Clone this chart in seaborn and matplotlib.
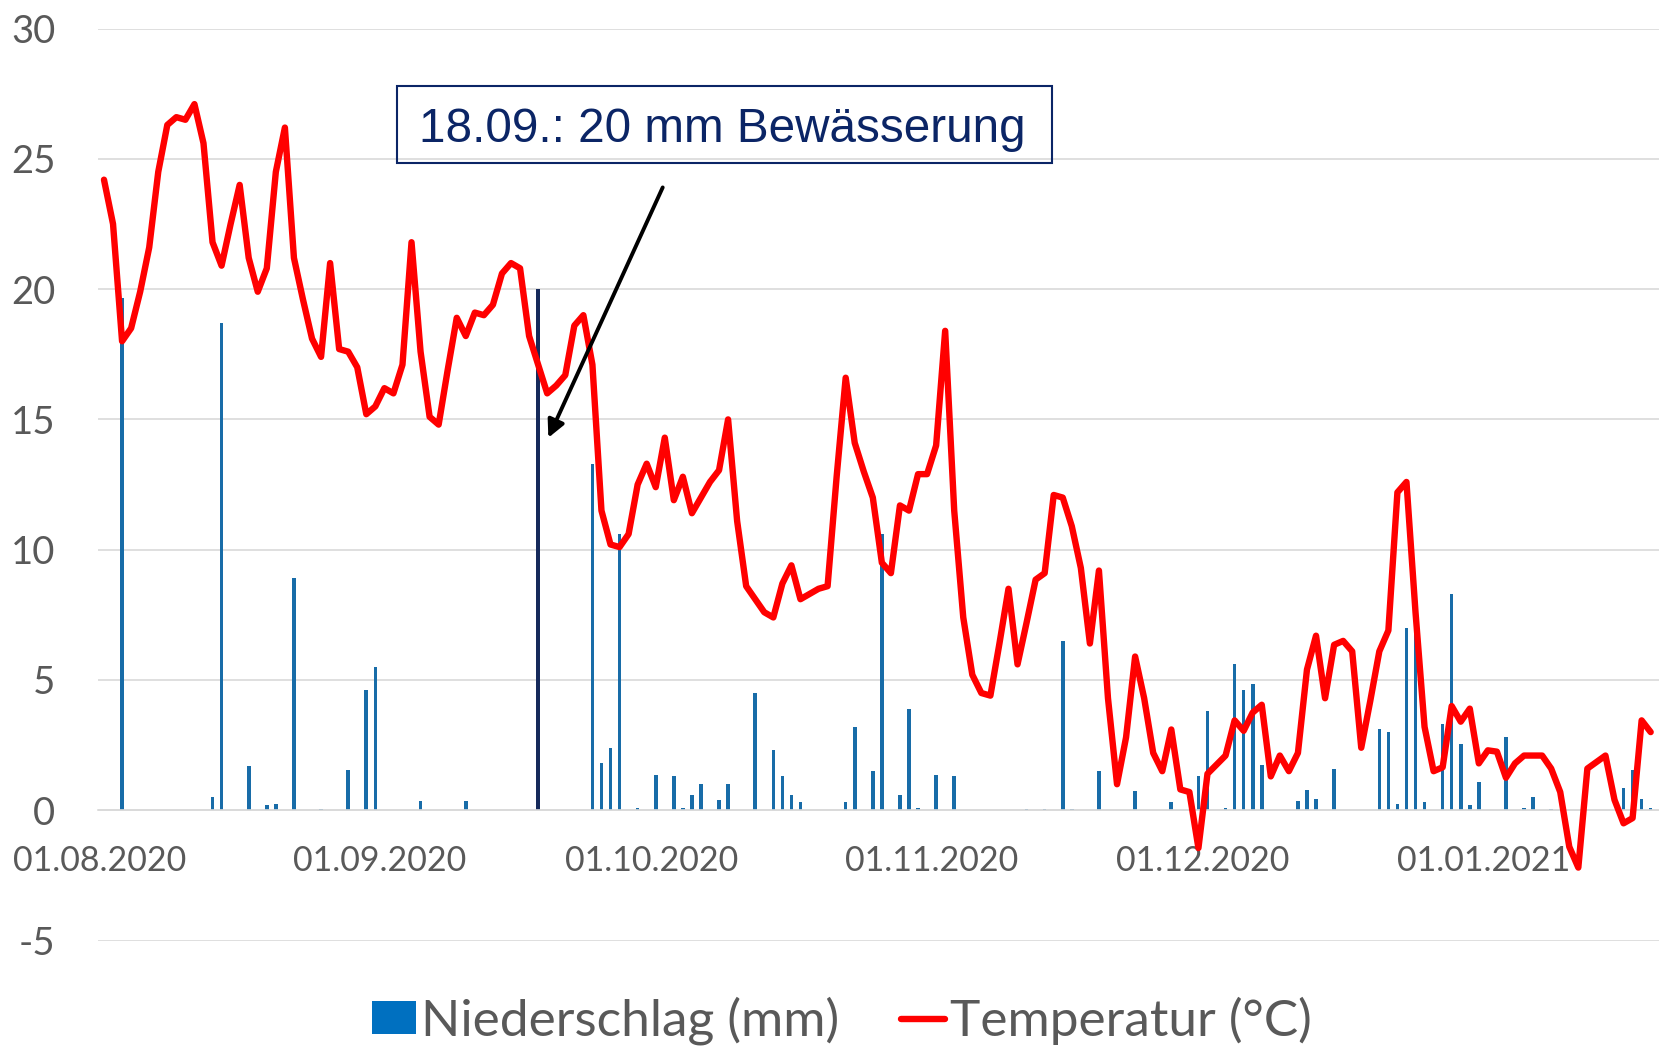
import numpy as np
import pandas as pd
import seaborn as sns
import matplotlib.pyplot as plt
from matplotlib.patches import Patch, Rectangle
from matplotlib.lines import Line2D

# daily values from 01.08.2020 (day 0) to 19.01.2021 (day 171)
temperatur = [
    24.2, 22.5, 18.0, 18.5, 19.9, 21.6, 24.5, 26.3, 26.6, 26.5,
    27.1, 25.6, 21.8, 20.9, 22.5, 24.0, 21.2, 19.9, 20.8, 24.5,
    26.2, 21.2, 19.6, 18.1, 17.4, 21.0, 17.7, 17.6, 17.0, 15.2,
    15.5, 16.2, 16.0, 17.1, 21.8, 17.6, 15.1, 14.8, 16.9, 18.9,
    18.2, 19.1, 19.0, 19.4, 20.6, 21.0, 20.8, 18.2, 17.1, 16.0,
    16.3, 16.7, 18.6, 19.0, 17.1, 11.5, 10.2, 10.1, 10.6, 12.5,
    13.3, 12.4, 14.3, 11.9, 12.8, 11.4, 12.0, 12.6, 13.05, 15.0,
    11.1, 8.6, 8.1, 7.6, 7.4, 8.7, 9.4, 8.1, 8.3, 8.5,
    8.6, 12.8, 16.6, 14.1, 13.0, 12.0, 9.5, 9.1, 11.7, 11.5,
    12.9, 12.9, 14.0, 18.4, 11.5, 7.4, 5.2, 4.5, 4.4, 6.4,
    8.5, 5.6, 7.2, 8.85, 9.1, 12.1, 12.0, 10.9, 9.3, 6.4,
    9.2, 4.3, 1.0, 2.8, 5.9, 4.3, 2.2, 1.5, 3.1, 0.8,
    0.7, -1.45, 1.4, 1.75, 2.1, 3.45, 3.05, 3.75, 4.05, 1.3,
    2.1, 1.5, 2.2, 5.4, 6.7, 4.3, 6.35, 6.5, 6.1, 2.4,
    4.2, 6.1, 6.9, 12.2, 12.6, 7.6, 3.2, 1.5, 1.65, 4.0,
    3.4, 3.9, 1.8, 2.3, 2.25, 1.25, 1.8, 2.1, 2.1, 2.1,
    1.6, 0.7, -1.4, -2.2, 1.6, 1.85, 2.1, 0.4, -0.5, -0.3,
    3.45, 3.0,
]

# days with precipitation (day index, mm)
regen_tage = [2, 12, 13, 16, 18, 19, 21, 24, 27, 29, 30, 35, 40,
              54, 55, 56, 57, 59, 61, 63, 64, 65, 66, 68, 69, 72, 74, 75, 76, 77,
              82, 83, 85, 86, 88, 89, 90, 92, 94, 102, 104, 106, 107, 110, 114,
              118, 121, 122, 124, 125, 126, 127, 128, 132, 133, 134, 136,
              141, 142, 143, 144, 145, 146, 148, 149, 150, 151, 152, 155, 157,
              158, 160, 168, 169, 170, 171]
regen_mm = [19.65, 0.5, 18.7, 1.7, 0.2, 0.25, 8.9, 0.05, 1.55, 4.6, 5.5, 0.35, 0.35,
            13.3, 1.8, 2.4, 10.6, 0.1, 1.35, 1.3, 0.1, 0.6, 1.0, 0.4, 1.0, 4.5, 2.3, 1.3, 0.6, 0.3,
            0.3, 3.2, 1.5, 10.6, 0.6, 3.9, 0.1, 1.35, 1.3, 0.05, 0.05, 6.5, 0.05, 1.5, 0.73,
            0.3, 1.3, 3.8, 0.1, 5.6, 4.6, 4.85, 1.75, 0.34, 0.78, 0.44, 1.6,
            3.1, 3.0, 0.25, 7.0, 7.9, 0.33, 3.3, 8.3, 2.55, 0.2, 1.07, 2.8, 0.08,
            0.5, 0.04, 0.85, 1.56, 0.42, 0.08]

# irrigation on 18.09.
bewaesserung_tag = 48
bewaesserung_mm = 20.0

tick_tage = [0, 31, 61, 92, 122, 153]
tick_labels = ['01.08.2020', '01.09.2020', '01.10.2020', '01.11.2020', '01.12.2020', '01.01.2021']

n = len(temperatur)
df = pd.DataFrame({'tag': np.arange(n), 'temperatur': temperatur, 'niederschlag': 0.0, 'art': 'Regen'})
df.loc[regen_tage, 'niederschlag'] = regen_mm
df.loc[bewaesserung_tag, 'niederschlag'] = bewaesserung_mm
df.loc[bewaesserung_tag, 'art'] = 'Bewässerung'

blau = '#0070C0'
navy = '#0B2566'
grau = '#595959'

sns.set_style('white')
plt.rcParams['font.family'] = ['Lato', 'DejaVu Sans']
plt.rcParams['axes.unicode_minus'] = False

fig = plt.figure(figsize=(16.59, 10.46), dpi=100)
ax = fig.add_axes([0.0593, 0.1008, 0.9407, 0.8719])

sns.barplot(data=df, x='tag', y='niederschlag', hue='art',
            palette={'Regen': blau, 'Bewässerung': navy},
            native_scale=True, dodge=False, width=0.4, errorbar=None,
            legend=False, ax=ax, zorder=2, linewidth=0)
sns.lineplot(data=df, x='tag', y='temperatur', color='#FF0000', linewidth=4.6, ax=ax, zorder=3)

ax.set_xlim(-0.62, 171.92)
ax.set_ylim(-5, 30)
ax.set_yticks(range(-5, 31, 5))
ax.grid(axis='y', color='#D9D9D9', lw=1.2)
ax.grid(axis='x', visible=False)
ax.set_axisbelow(True)
for s in ['top', 'right', 'left']:
    ax.spines[s].set_visible(False)
ax.spines['bottom'].set_position(('data', 0))
ax.spines['bottom'].set_color('#D9D9D9')
ax.spines['bottom'].set_linewidth(1.2)

ax.set_xticks([t - 0.5 for t in tick_tage])
ax.set_xticklabels(tick_labels)
ax.tick_params(axis='x', length=8, width=1.2, color='#D9D9D9', pad=17, labelsize=24.5, labelcolor=grau)
ax.tick_params(axis='y', length=0, pad=31, labelsize=27.5, labelcolor=grau)
ax.set_xlabel('')
ax.set_ylabel('')

# annotation
ax.annotate('', xy=(49.0, 14.2), xytext=(61.9, 24.0),
            arrowprops=dict(arrowstyle='-|>', color='black', lw=2.8, mutation_scale=26))
fig.add_artist(Rectangle((396.5 / 1659, 1 - 163 / 1046), 655.5 / 1659, 77 / 1046,
                         transform=fig.transFigure, fill=False, edgecolor=navy, lw=1.5))
fig.text(722 / 1659, 1 - 142 / 1046, '18.09.: 20 mm Bewässerung', ha='center', va='baseline',
         fontsize=34.3, color=navy, family=['Liberation Sans Narrow', 'Liberation Sans'])

handles = [Patch(facecolor=blau, edgecolor='none'), Line2D([], [], color='#FF0000', lw=4.6)]
fig.legend(handles, ['Niederschlag (mm)', 'Temperatur (°C)'], loc='center',
           bbox_to_anchor=(842 / 1659, 1 - 1021 / 1046), ncol=2, frameon=False,
           fontsize=37, labelcolor=grau, handlelength=0.85, handleheight=0.6,
           handletextpad=0.1, columnspacing=1.2, borderpad=0)

fig.savefig('out.png', dpi=100)
